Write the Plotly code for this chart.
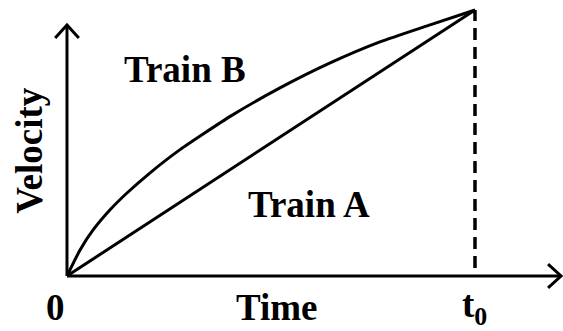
import plotly.graph_objects as go

# time in units of t0, velocity in units of the common final velocity
train_a_t = [0.0, 1.0]
train_a_v = [0.0, 1.0]

train_b_t = [0.0, 0.032, 0.064, 0.105, 0.147, 0.203, 0.277, 0.400, 0.522, 0.645, 0.767, 0.890, 1.0]
train_b_v = [0.0, 0.098, 0.173, 0.248, 0.312, 0.387, 0.475, 0.600, 0.707, 0.801, 0.880, 0.944, 1.0]

t0 = 1.0
x_axis_end = 1.211
y_axis_end = 0.944

FONT = "Liberation Serif"
BLACK = "black"

fig = go.Figure()

fig.add_trace(go.Scatter(x=train_a_t, y=train_a_v, mode="lines",
                         line=dict(color=BLACK, width=3), hoverinfo="skip"))
fig.add_trace(go.Scatter(x=train_b_t, y=train_b_v, mode="lines",
                         line=dict(color=BLACK, width=3, shape="spline", smoothing=0.5),
                         hoverinfo="skip"))

# axes with open arrow heads
line = dict(color=BLACK, width=3)
fig.add_shape(type="line", x0=0, y0=0, x1=x_axis_end, y1=0, line=line)
fig.add_shape(type="line", x0=0, y0=0, x1=0, y1=y_axis_end, line=line)
fig.add_shape(type="path", line=line,
              path=f"M {x_axis_end - 0.032},{0.045} L {x_axis_end},0 L {x_axis_end - 0.032},{-0.045}")
fig.add_shape(type="path", line=line,
              path=f"M {-0.029},{y_axis_end - 0.049} L 0,{y_axis_end} L {0.029},{y_axis_end - 0.049}")

# dashed drop line at t0
fig.add_shape(type="line", x0=t0, y0=0.03, x1=t0, y1=train_b_v[-1],
              line=dict(color=BLACK, width=3.5, dash="12px,7px"))

label_font = dict(family=FONT, size=37, color=BLACK)
labels = [
    ("<b>Train B</b>", 0.289, 0.778, 0),
    ("<b>Train A</b>", 0.593, 0.267, 0),
    ("<b>Time</b>", 0.515, -0.118, 0),
    ("<b>0</b>", -0.029, -0.118, 0),
    ("<b>t<sub>0</sub></b>", 1.0, -0.118, 0),
    ("<b>Velocity</b>", -0.091, 0.474, -90),
]
for text, x, y, ang in labels:
    fig.add_annotation(text=text, x=x, y=y, xref="x", yref="y", showarrow=False,
                       font=label_font, textangle=ang, xanchor="center", yanchor="middle")

fig.update_xaxes(range=[-0.1642, 1.2157], visible=False, fixedrange=True)
fig.update_yaxes(range=[-0.2068, 1.0376], visible=False, fixedrange=True)
fig.update_layout(width=563, height=331, margin=dict(l=0, r=0, t=0, b=0),
                  showlegend=False, plot_bgcolor="white", paper_bgcolor="white")

fig.write_html("out.html", config={"displayModeBar": False},
               post_script="document.body.style.margin='0';document.body.style.overflow='hidden';")
